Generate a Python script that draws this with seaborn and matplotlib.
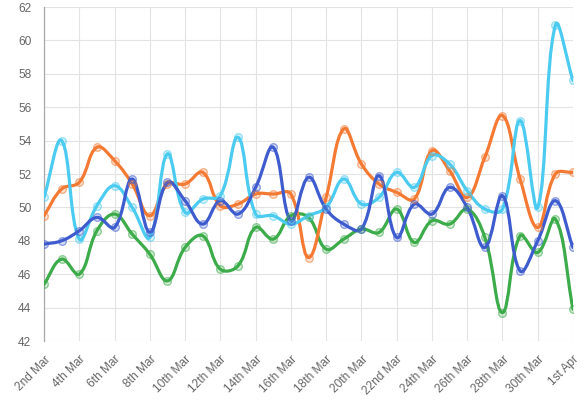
import matplotlib
matplotlib.use('Agg')
import matplotlib.pyplot as plt
import numpy as np
import pandas as pd
import seaborn as sns
from matplotlib.colors import to_rgba
from matplotlib.path import Path
from matplotlib.patches import PathPatch

# data
days = ['2nd Mar', '3rd Mar', '4th Mar', '5th Mar', '6th Mar', '7th Mar', '8th Mar', '9th Mar',
        '10th Mar', '11th Mar', '12th Mar', '13th Mar', '14th Mar', '15th Mar', '16th Mar',
        '17th Mar', '18th Mar', '19th Mar', '20th Mar', '21st Mar', '22nd Mar', '23rd Mar',
        '24th Mar', '25th Mar', '26th Mar', '27th Mar', '28th Mar', '29th Mar', '30th Mar',
        '31st Mar', '1st Apr']
cyan = [50.6, 54.0, 48.1, 50.1, 51.3, 50.0, 48.2, 53.2, 49.7, 50.5, 50.7, 54.2, 49.6, 49.5,
        49.0, 49.5, 50.0, 51.7, 50.2, 50.6, 52.1, 51.2, 53.1, 52.6, 51.0, 49.9, 49.9, 55.2,
        50.0, 60.9, 57.6]
orange = [49.5, 51.1, 51.5, 53.6, 52.8, 51.4, 49.5, 51.4, 51.4, 52.1, 50.1, 50.2, 50.8, 50.8,
          50.8, 47.0, 50.6, 54.7, 52.6, 51.4, 50.9, 50.5, 53.4, 52.2, 50.6, 53.0, 55.5, 51.7,
          48.8, 52.0, 52.1]
blue = [47.8, 48.0, 48.6, 49.4, 48.8, 51.7, 48.5, 51.5, 50.4, 49.0, 50.4, 49.6, 51.2, 53.6,
        49.2, 51.8, 49.9, 49.0, 48.7, 51.9, 48.2, 50.2, 49.6, 51.2, 50.0, 47.6, 50.7, 46.2,
        48.0, 50.4, 47.6]
green = [45.4, 46.9, 46.0, 48.6, 49.6, 48.4, 47.2, 45.6, 47.6, 48.3, 46.3, 46.5, 48.8, 48.1,
         49.5, 49.4, 47.5, 48.1, 48.7, 48.5, 49.9, 47.9, 49.2, 49.0, 49.9, 48.2, 43.7, 48.3,
         47.3, 49.3, 43.9]

series = [('green', green, '#3cab4a'), ('orange', orange, '#f47a33'),
          ('cyan', cyan, '#4ccbf0'), ('blue', blue, '#3f5ccf')]

sns.set_theme(style='white')
plt.rcParams['font.family'] = ['Liberation Sans', 'DejaVu Sans']

fig = plt.figure(figsize=(5.84, 4.11), dpi=100)
ax = fig.add_axes([44 / 584, 1 - 341 / 411, 529 / 584, 334 / 411])
ax.set_xlim(0, len(days) - 1)
ax.set_ylim(42, 62)

# pixel scale, used for the chart.js style spline tension
px_x = 529 / (len(days) - 1)
px_y = 334 / 20


def spline_path(xs, ys, t=0.4):
    n = len(xs)
    pts = np.column_stack([np.array(xs) * px_x, np.array(ys) * px_y])
    cin, cout = [], []
    for i in range(n):
        p0 = pts[max(i - 1, 0)]
        p1 = pts[i]
        p2 = pts[min(i + 1, n - 1)]
        d01 = np.hypot(*(p1 - p0))
        d12 = np.hypot(*(p2 - p1))
        tot = d01 + d12 if d01 + d12 > 0 else 1
        fa = t * d01 / tot
        fb = t * d12 / tot
        cin.append(p1 - fa * (p2 - p0))
        cout.append(p1 + fb * (p2 - p0))
    verts = [pts[0]]
    codes = [Path.MOVETO]
    for i in range(1, n):
        verts += [cout[i - 1], cin[i], pts[i]]
        codes += [Path.CURVE4] * 3
    verts = np.array(verts) / np.array([px_x, px_y])
    return Path(verts, codes)


x = np.arange(len(days))
for name, vals, col in series:
    patch = PathPatch(spline_path(x, vals), facecolor='none', edgecolor=col,
                      lw=2.3, capstyle='round', joinstyle='round', zorder=3)
    ax.add_patch(patch)
    df = pd.DataFrame({'x': x, 'y': vals})
    sns.scatterplot(data=df, x='x', y='y', ax=ax, s=30, marker='o',
                    facecolor=to_rgba(col, 0.2), edgecolor=to_rgba(col, 0.55),
                    linewidth=1.0, zorder=4)

ax.set_xlabel('')
ax.set_ylabel('')
ax.set_xticks(x[::2])
ax.set_xticklabels(days[::2], rotation=45, ha='right', rotation_mode='anchor')
ax.set_yticks(np.arange(42, 63, 2))
ax.grid(True, color='#e3e3e3', lw=0.8)
ax.tick_params(axis='both', length=7, color='#e3e3e3', labelsize=8.6,
               labelcolor='#666666', pad=2)
for s in ['top', 'right', 'bottom']:
    ax.spines[s].set_visible(False)
ax.spines['left'].set_color('#a8a8a8')
ax.spines['left'].set_linewidth(0.9)

fig.savefig('out.png', dpi=100)
